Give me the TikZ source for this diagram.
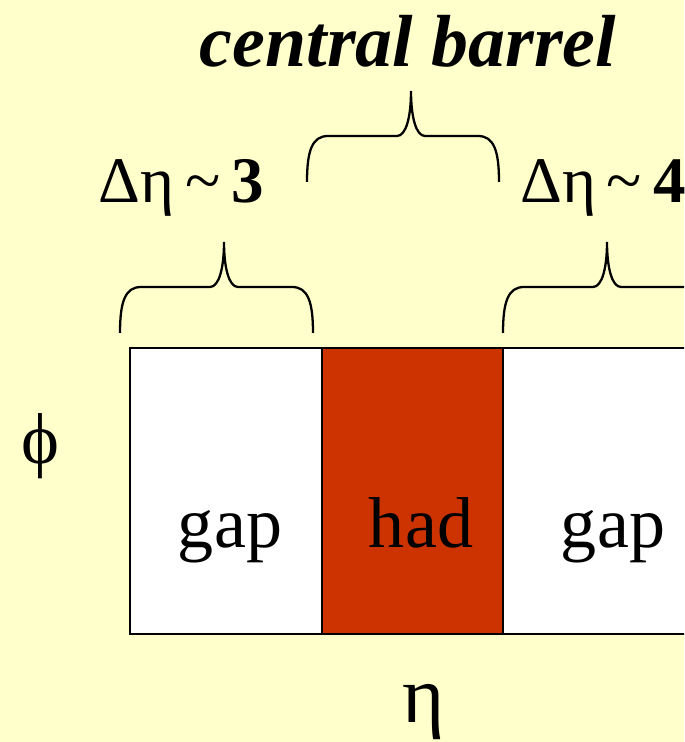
\documentclass[tikz,border=0pt]{standalone}
\usepackage{fontspec}
\setmainfont{Liberation Serif}
\usetikzlibrary{positioning}

\definecolor{slidebg}{HTML}{FFFFCC}
\definecolor{hadred}{HTML}{CC3300}

% brace opening downwards: left end, tip, right end, height of the ends
\newcommand{\curlybrace}[4]{%
  \draw[line width=1.3pt] (#1,#4)
    .. controls (#1,#4+0.62) and (#1+0.10,#4+0.92) .. (#1+0.42,#4+0.92)
    -- (#2-0.28,#4+0.92)
    .. controls (#2-0.10,#4+0.92) and (#2,#4+1.30) .. (#2,#4+1.82)
    .. controls (#2,#4+1.30) and (#2+0.10,#4+0.92) .. (#2+0.28,#4+0.92)
    -- (#3-0.42,#4+0.92)
    .. controls (#3-0.10,#4+0.92) and (#3,#4+0.62) .. (#3,#4);}

\tikzset{
  cell/.style={draw, line width=1.1pt, minimum width=3.84cm, minimum height=5.72cm, inner sep=0pt},
  lbl/.style={inner sep=0pt, font=\fontsize{41}{49}\selectfont},
  dlbl/.style={inner sep=0pt, font=\fontsize{37}{44}\selectfont}
}

\begin{document}
\begin{tikzpicture}

  \useasboundingbox (0,0) rectangle (13.68,14.84);
  \clip (0,0) rectangle (13.68,14.84);
  \fill[slidebg] (0,0) rectangle (13.68,14.84);

  % the three cells in eta
  \node[cell, fill=white] (gapL) at (4.52,5.02) {};
  \node[cell, fill=white] (gapR) at (11.98,5.02) {};
  \node[cell, fill=hadred, minimum width=3.62cm] (had) at (8.25,5.02) {};

  \node[lbl, anchor=base] (gapLtxt) at (4.60,3.88) {gap};
  \node[lbl, anchor=base] (hadtxt)  at (8.42,3.88) {had};
  \node[lbl, anchor=base] (gapRtxt) at (12.26,3.88) {gap};

  % axes
  \node[dlbl, font=\fontsize{41}{49}\selectfont] (phi) at (0.80,5.92) {ϕ};
  \node[lbl, anchor=base, font=\fontsize{46}{55}\selectfont] (eta) at (8.48,0.38) {η};

  % braces
  \curlybrace{2.40}{4.48}{6.26}{8.18}
  \curlybrace{10.06}{12.14}{14.22}{8.18}
  \curlybrace{6.14}{8.22}{9.98}{11.20}

  \node[dlbl, anchor=base] (deltaL) at (3.62,10.78) {Δη\,\textasciitilde\,\textbf{3}};
  \node[dlbl, anchor=base west] (deltaR) at (10.40,10.78) {Δη\,\textasciitilde\,\textbf{4}};

  \node[lbl, anchor=base, font=\fontsize{42}{50}\selectfont\bfseries\itshape] (barrel) at (8.16,13.50) {central barrel};

\end{tikzpicture}
\end{document}
